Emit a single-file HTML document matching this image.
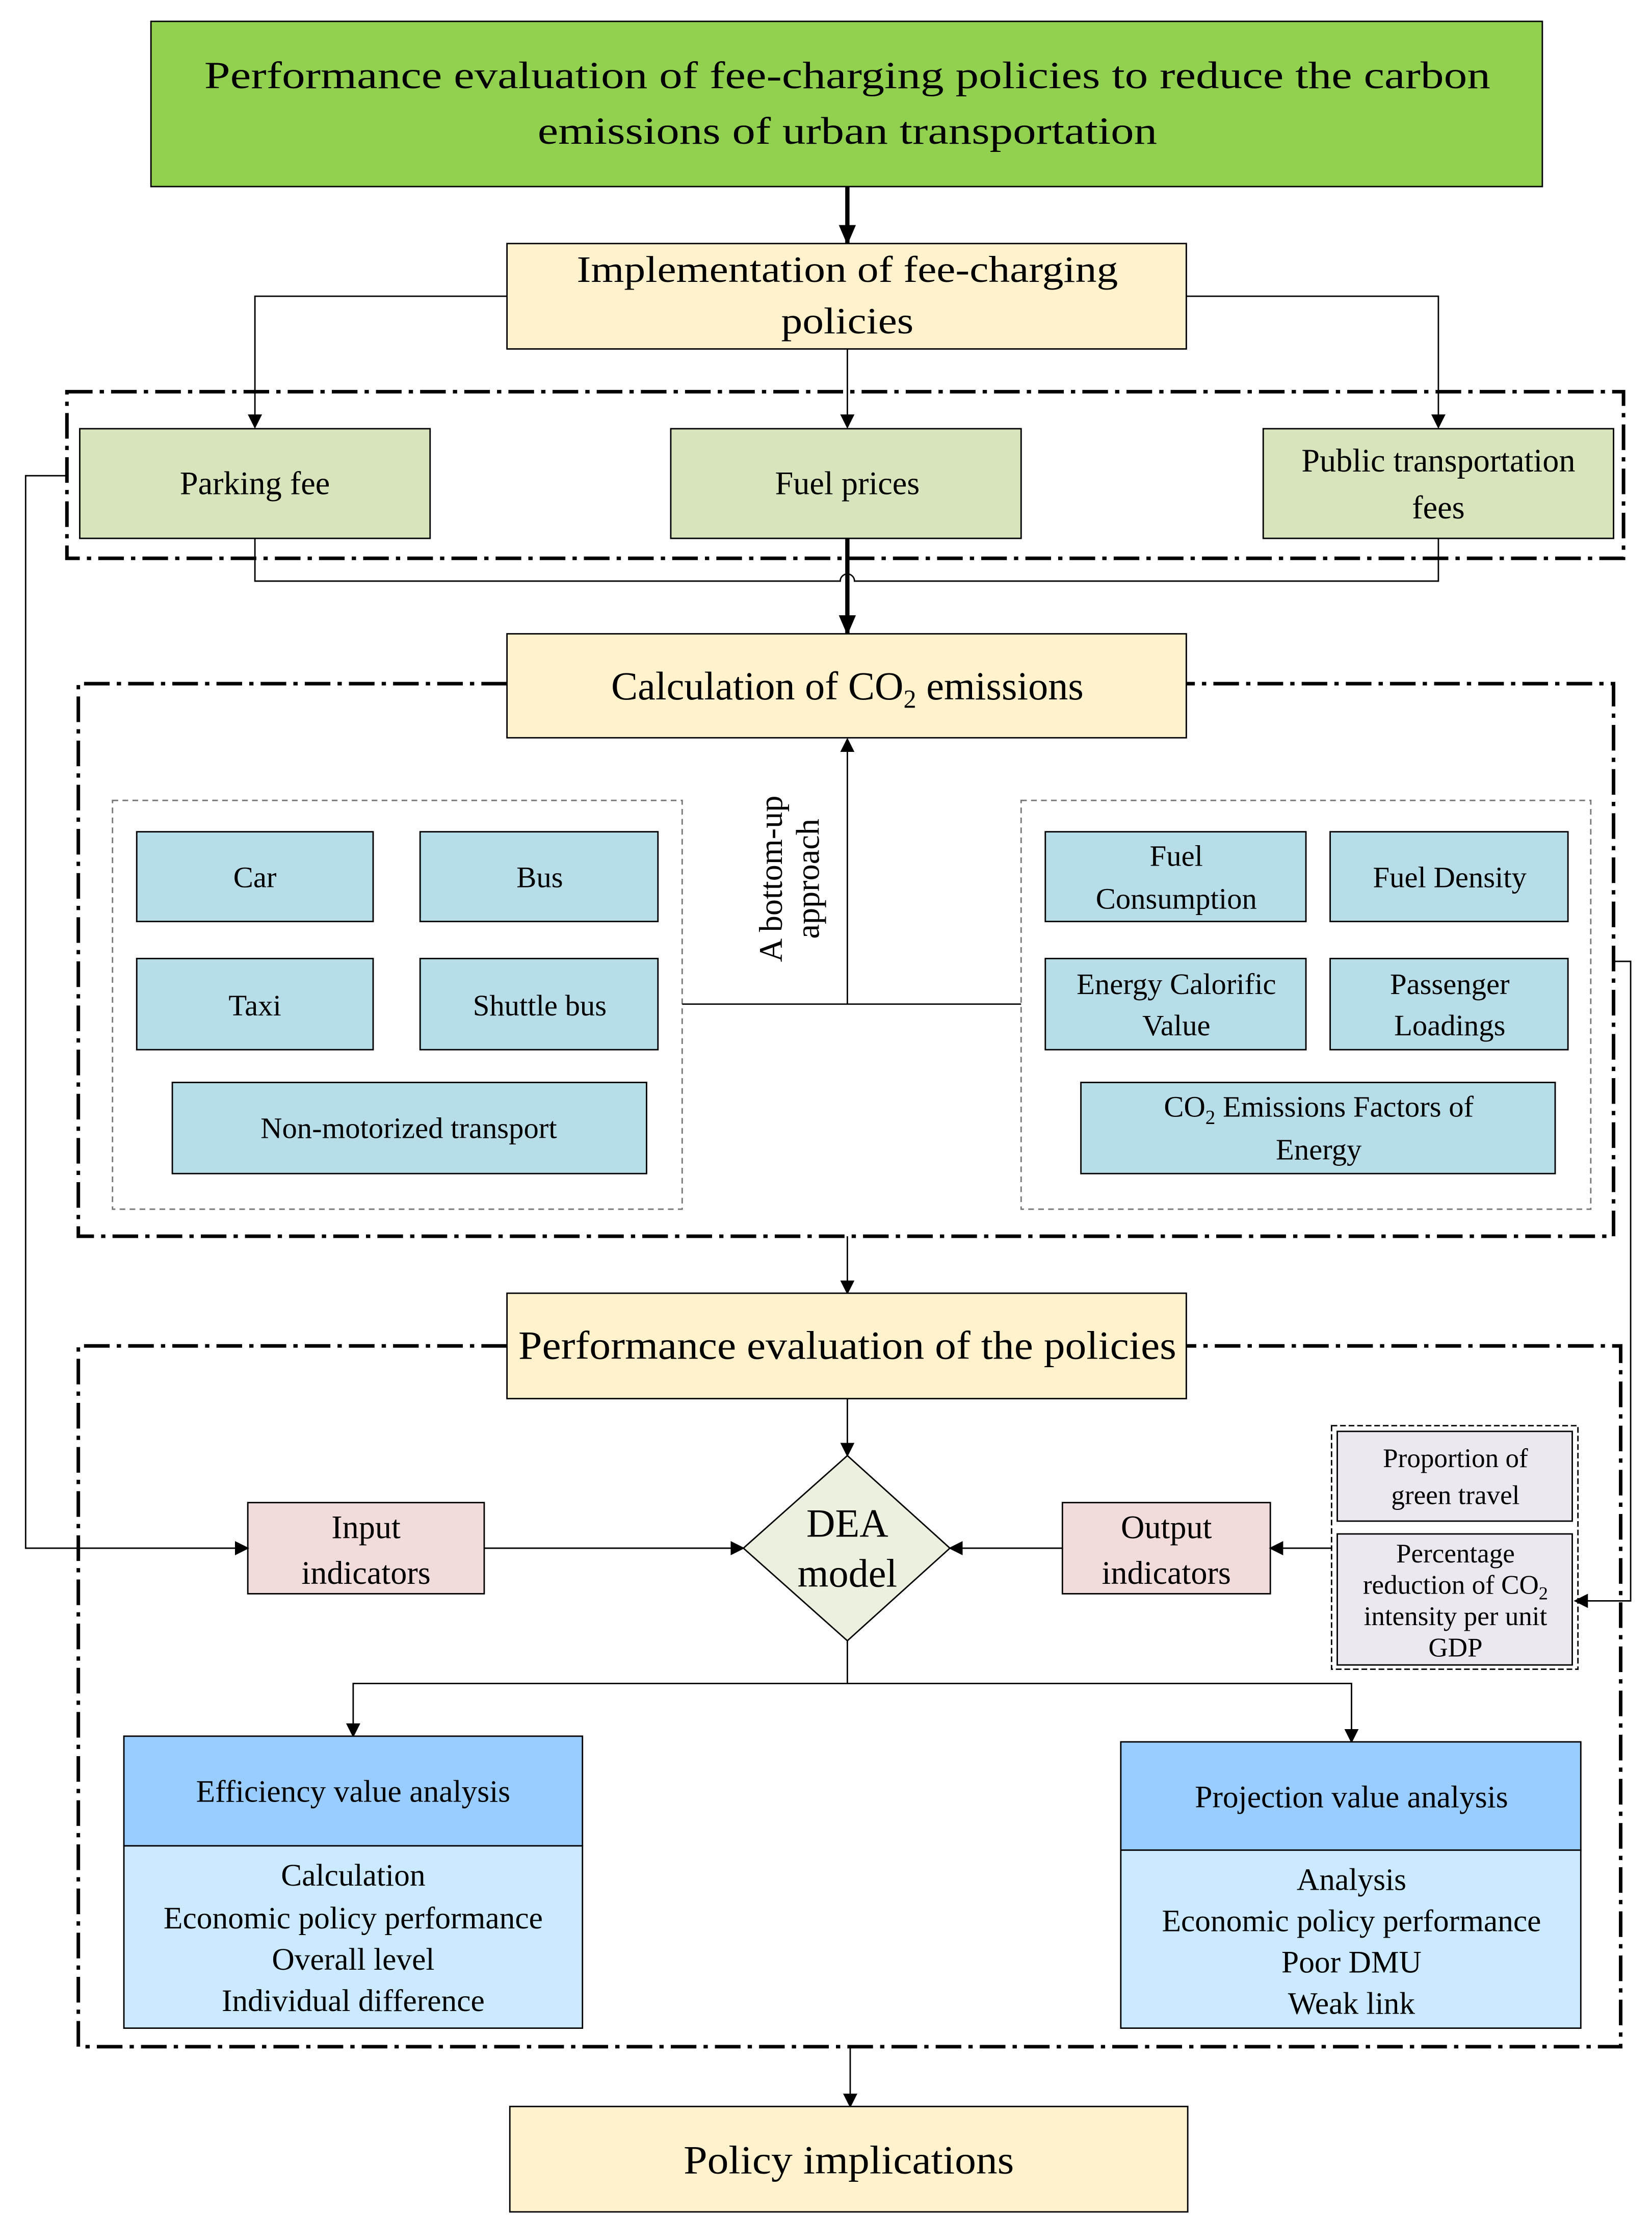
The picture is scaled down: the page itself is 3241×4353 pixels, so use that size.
<!DOCTYPE html>
<html><head><meta charset="utf-8">
<style>
html,body{margin:0;padding:0;background:#fff;}
svg{display:block;}
text{font-family:"Liberation Serif","Times New Roman",serif;fill:#000;}
</style></head>
<body>
<svg width="3241" height="4353" viewBox="0 0 1160 1558" preserveAspectRatio="none" xmlns="http://www.w3.org/2000/svg">
<defs>
<marker id="a" markerWidth="10" markerHeight="10" refX="9" refY="5" orient="auto" markerUnits="userSpaceOnUse">
<path d="M0,0 L10,5 L0,10 z" fill="#000"/></marker>
<marker id="b" markerWidth="14" markerHeight="14" refX="13" refY="7" orient="auto" markerUnits="userSpaceOnUse">
<path d="M0,1 L14,7 L0,13 z" fill="#000"/></marker>
</defs>
<g stroke="#000" stroke-width="1">
<rect x="106" y="15" width="977" height="116" fill="#92d050"/>
<line x1="595" y1="131" x2="595" y2="171" stroke-width="3" marker-end="url(#b)"/>
<rect x="356" y="171" width="477" height="74" fill="#fff2cc"/>
<polyline points="356,208 179,208 179,300" fill="none" marker-end="url(#a)"/>
<polyline points="833,208 1010,208 1010,300" fill="none" marker-end="url(#a)"/>
<line x1="595" y1="245" x2="595" y2="300" marker-end="url(#a)"/>
<rect x="47" y="275" width="1093" height="117" fill="none" stroke-width="2.5" stroke-dasharray="18,5,3,5"/>
<rect x="56" y="301" width="246" height="77" fill="#d8e4bc"/>
<rect x="471" y="301" width="246" height="77" fill="#d8e4bc"/>
<rect x="887" y="301" width="246" height="77" fill="#d8e4bc"/>
<path d="M179,378 V408 H590 A5,5 0 0 1 600,408 H1010 V378" fill="none"/>
<line x1="595" y1="378" x2="595" y2="445" stroke-width="3" marker-end="url(#b)"/>
<path d="M356,480 H55 V868 H1133 V480 H833" fill="none" stroke-width="2.5" stroke-dasharray="18,5,3,5"/>
<rect x="356" y="445" width="477" height="73" fill="#fff2cc"/>
<rect x="79" y="562" width="400" height="287" fill="none" stroke="#777" stroke-dasharray="4,3"/>
<rect x="717" y="562" width="400" height="287" fill="none" stroke="#777" stroke-dasharray="4,3"/>
<g fill="#b7dde8">
<rect x="96" y="584" width="166" height="63"/><rect x="295" y="584" width="167" height="63"/>
<rect x="96" y="673" width="166" height="64"/><rect x="295" y="673" width="167" height="64"/>
<rect x="121" y="760" width="333" height="64"/>
<rect x="734" y="584" width="183" height="63"/><rect x="934" y="584" width="167" height="63"/>
<rect x="734" y="673" width="183" height="64"/><rect x="934" y="673" width="167" height="64"/>
<rect x="759" y="760" width="333" height="64"/>
</g>
<line x1="479" y1="705" x2="717" y2="705"/>
<line x1="595" y1="705" x2="595" y2="519" marker-end="url(#a)"/>
<polyline points="1133,675 1145,675 1145,1124 1106,1124" fill="none" marker-end="url(#a)"/>
<line x1="595" y1="868" x2="595" y2="908" marker-end="url(#a)"/>
<path d="M356,945 H55 V1437 H1138 V945 H833" fill="none" stroke-width="2.5" stroke-dasharray="18,5,3,5"/>
<rect x="356" y="908" width="477" height="74" fill="#fff2cc"/>
<line x1="595" y1="982" x2="595" y2="1022" marker-end="url(#a)"/>
<polygon points="595,1022 667,1087 595,1152 522,1087" fill="#ebf1de"/>
<rect x="174" y="1055" width="166" height="64" fill="#f2dcdb"/>
<rect x="746" y="1055" width="146" height="64" fill="#f2dcdb"/>
<polyline points="47,334 18,334 18,1087 174,1087" fill="none" marker-end="url(#a)"/>
<line x1="340" y1="1087" x2="522" y2="1087" marker-end="url(#a)"/>
<line x1="746" y1="1087" x2="667" y2="1087" marker-end="url(#a)"/>
<line x1="935" y1="1087" x2="892" y2="1087" marker-end="url(#a)"/>
<rect x="935" y="1001" width="173" height="171" fill="none" stroke-dasharray="4,2"/>
<rect x="939" y="1005" width="165" height="63" fill="#ebe8ef"/>
<rect x="939" y="1077" width="165" height="92" fill="#ebe8ef"/>
<polyline points="595,1152 595,1182 248,1182 248,1219" fill="none" marker-end="url(#a)"/>
<polyline points="595,1182 949,1182 949,1223" fill="none" marker-end="url(#a)"/>
<rect x="87" y="1219" width="322" height="77" fill="#99ccff"/>
<rect x="87" y="1296" width="322" height="128" fill="#cceaff"/>
<rect x="787" y="1223" width="323" height="76" fill="#99ccff"/>
<rect x="787" y="1299" width="323" height="125" fill="#cceaff"/>
<line x1="597" y1="1437" x2="597" y2="1479" marker-end="url(#a)"/>
<rect x="358" y="1479" width="476" height="74" fill="#fff2cc"/>
</g>
<g text-anchor="middle">
<text x="595" y="62" font-size="27" textLength="903" lengthAdjust="spacingAndGlyphs">Performance evaluation of fee-charging policies to reduce the carbon</text>
<text x="595" y="101" font-size="27" textLength="435" lengthAdjust="spacingAndGlyphs">emissions of urban transportation</text>
<text x="595" y="198" font-size="26" textLength="380" lengthAdjust="spacingAndGlyphs">Implementation of fee-charging</text>
<text x="595" y="234" font-size="26" textLength="93" lengthAdjust="spacingAndGlyphs">policies</text>
<text x="179" y="347" font-size="23">Parking fee</text>
<text x="595" y="347" font-size="23">Fuel prices</text>
<text x="1010" y="331" font-size="23">Public transportation</text>
<text x="1010" y="364" font-size="23">fees</text>
<text x="595" y="491" font-size="28">Calculation of CO<tspan font-size="18" dy="6">2</tspan><tspan dy="-6"> emissions</tspan></text>
<text x="179" y="623" font-size="21">Car</text>
<text x="379" y="623" font-size="21">Bus</text>
<text x="179" y="713" font-size="21">Taxi</text>
<text x="379" y="713" font-size="21">Shuttle bus</text>
<text x="287" y="799" font-size="21">Non-motorized transport</text>
<text x="826" y="608" font-size="21">Fuel</text>
<text x="826" y="638" font-size="21">Consumption</text>
<text x="1018" y="623" font-size="21">Fuel Density</text>
<text x="826" y="698" font-size="21">Energy Calorific</text>
<text x="826" y="727" font-size="21">Value</text>
<text x="1018" y="698" font-size="21">Passenger</text>
<text x="1018" y="727" font-size="21">Loadings</text>
<text x="926" y="784" font-size="21">CO<tspan font-size="14" dy="5">2</tspan><tspan dy="-5"> Emissions Factors of</tspan></text>
<text x="926" y="814" font-size="21">Energy</text>
<g transform="translate(563,617) rotate(-90)">
<text x="0" y="-14" font-size="23">A bottom-up</text>
<text x="0" y="12" font-size="23">approach</text>
</g>
<text x="595" y="954" font-size="28" textLength="462" lengthAdjust="spacingAndGlyphs">Performance evaluation of the policies</text>
<text x="595" y="1079" font-size="28">DEA</text>
<text x="595" y="1114" font-size="28">model</text>
<text x="257" y="1080" font-size="23">Input</text>
<text x="257" y="1112" font-size="23">indicators</text>
<text x="819" y="1080" font-size="23">Output</text>
<text x="819" y="1112" font-size="23">indicators</text>
<text x="1022" y="1030" font-size="19">Proportion of</text>
<text x="1022" y="1056" font-size="19">green travel</text>
<text x="1022" y="1097" font-size="19">Percentage</text>
<text x="1022" y="1119" font-size="19">reduction of CO<tspan font-size="13" dy="4">2</tspan></text>
<text x="1022" y="1141" font-size="19">intensity per unit</text>
<text x="1022" y="1163" font-size="19">GDP</text>
<text x="248" y="1265" font-size="22">Efficiency value analysis</text>
<text x="248" y="1324" font-size="22">Calculation</text>
<text x="248" y="1354" font-size="22">Economic policy performance</text>
<text x="248" y="1383" font-size="22">Overall level</text>
<text x="248" y="1412" font-size="22">Individual difference</text>
<text x="949" y="1269" font-size="22">Projection value analysis</text>
<text x="949" y="1327" font-size="22">Analysis</text>
<text x="949" y="1356" font-size="22">Economic policy performance</text>
<text x="949" y="1385" font-size="22">Poor DMU</text>
<text x="949" y="1414" font-size="22">Weak link</text>
<text x="596" y="1526" font-size="28" textLength="232" lengthAdjust="spacingAndGlyphs">Policy implications</text>
</g>
</svg>
</body></html>
